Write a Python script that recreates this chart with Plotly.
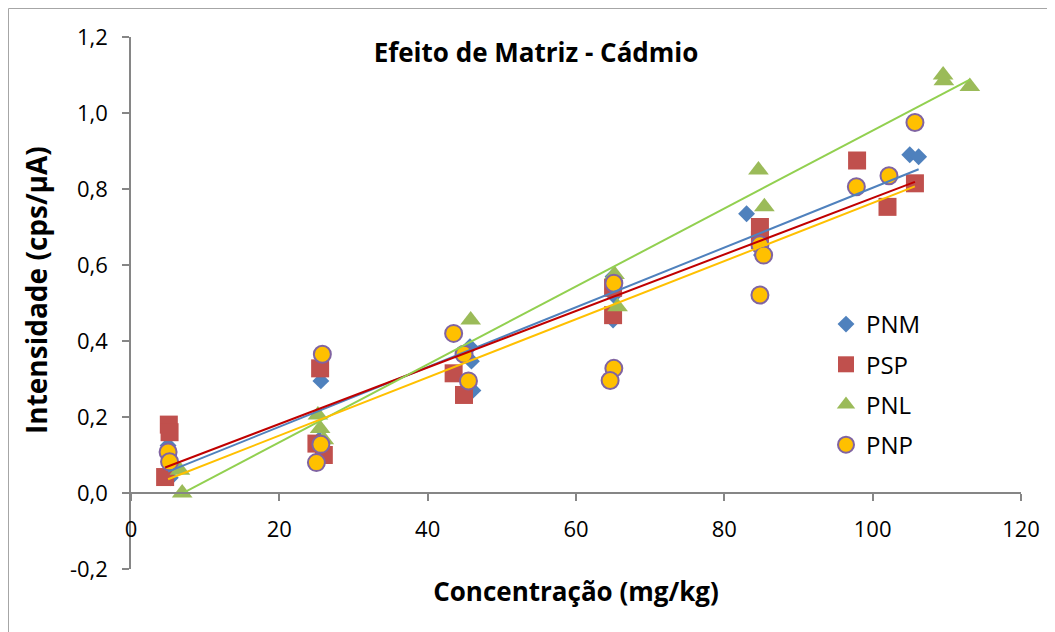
import numpy as np
import plotly.graph_objects as go

# ---- data ----
pnm_x = [5.0, 5.3, 5.1, 25.6, 25.4, 45.7, 45.9, 46.1, 65.0, 65.0, 65.1, 83.0, 85.0, 84.8, 105.0, 106.2]
pnm_y = [0.125, 0.04, 0.10, 0.295, 0.14, 0.385, 0.347, 0.27, 0.57, 0.455, 0.52, 0.735, 0.626, 0.675, 0.89, 0.885]

psp_x = [5.1, 5.2, 4.6, 25.5, 25.0, 26.0, 43.5, 44.9, 65.0, 65.0, 84.8, 84.8, 97.9, 102.0, 105.7]
psp_y = [0.18, 0.16, 0.042, 0.328, 0.13, 0.10, 0.315, 0.258, 0.54, 0.468, 0.70, 0.666, 0.875, 0.753, 0.815]

pnl_x = [6.6, 6.9, 25.2, 25.5, 26.0, 45.8, 65.2, 65.6, 84.6, 85.4, 109.5, 109.6, 113.1]
pnl_y = [0.06, 0.0, 0.205, 0.17, 0.14, 0.455, 0.575, 0.49, 0.85, 0.753, 1.10, 1.085, 1.07]

pnp_x = [5.0, 5.2, 25.8, 25.6, 25.0, 43.5, 44.9, 45.5, 65.1, 65.1, 64.6, 84.8, 85.3, 84.8, 105.7, 102.2, 97.8]
pnp_y = [0.108, 0.082, 0.365, 0.128, 0.08, 0.42, 0.365, 0.295, 0.552, 0.328, 0.296, 0.653, 0.626, 0.521, 0.975, 0.835, 0.806]

y_ticks = [-0.2, 0.0, 0.2, 0.4, 0.6, 0.8, 1.0, 1.2]
y_tick_labels = ["-0,2", "0,0", "0,2", "0,4", "0,6", "0,8", "1,0", "1,2"]

series = [
    ("PNM", pnm_x, pnm_y),
    ("PSP", psp_x, psp_y),
    ("PNL", pnl_x, pnl_y),
    ("PNP", pnp_x, pnp_y),
]

marker_styles = {
    "PNM": dict(symbol="diamond", size=13, color="#4F81BD"),
    "PSP": dict(symbol="square", size=18, color="#C0504D"),
    "PNL": dict(symbol="triangle-up", size=18, color="#9BBB59"),
    "PNP": dict(symbol="circle", size=17, color="#FFC000",
                line=dict(color="#8064A2", width=2)),
}
trend_colors = {"PNM": "#4F81BD", "PSP": "#C00000", "PNL": "#92D050", "PNP": "#FFC000"}

FONT = "'Open Sans', Lato, sans-serif"

fig = go.Figure()

# markers
for name, xs, ys in series:
    fig.add_trace(
        go.Scatter(
            x=xs, y=ys, mode="markers", name=name,
            marker=marker_styles[name],
            legendgroup=name,
        )
    )

# linear trendlines (least squares over each series' x range)
for name, xs, ys in series:
    slope, intercept = np.polyfit(xs, ys, 1)
    tx = np.array([min(xs), max(xs)])
    fig.add_trace(
        go.Scatter(
            x=tx, y=slope * tx + intercept, mode="lines",
            line=dict(color=trend_colors[name], width=2),
            showlegend=False, hoverinfo="skip",
        )
    )

# the page body adds an 8px offset; screen coords -> figure coords
OFF = 8
W, H = 1055 - OFF, 632 - OFF


# plot area on screen: x 131..1021, y 37..569
def px_x(p):
    return (p - 131) / 890


def px_y(p):
    return (569 - p) / 532


# chart-area frame (left and top edges visible)
fig.add_shape(
    type="path",
    xref="paper", yref="paper",
    path=f"M {px_x(8.5)},{px_y(700)} L {px_x(8.5)},{px_y(8.5)} L {px_x(1100)},{px_y(8.5)}",
    line=dict(color="#A6A6A6", width=1),
)

# y axis title
fig.add_annotation(
    text="<b>Intensidade (cps/µA)</b>",
    xref="paper", yref="paper",
    x=px_x(36), y=px_y(290), xanchor="center", yanchor="middle",
    textangle=-90, showarrow=False,
    font=dict(size=28),
)

fig.update_layout(
    width=W, height=H,
    margin=dict(l=131 - OFF, r=W - (1021 - OFF), t=37 - OFF, b=H - (569 - OFF)),
    paper_bgcolor="white", plot_bgcolor="white",
    font=dict(family=FONT, size=22, color="black"),
    title=dict(
        text="<b>Efeito de Matriz - Cádmio</b>",
        x=(536 - OFF) / W, xanchor="center",
        y=1 - (53 - OFF) / H, yanchor="middle",
        font=dict(size=26, color="black"),
    ),
    legend=dict(
        x=px_x(826), y=px_y(302), xanchor="left", yanchor="top",
        bgcolor="rgba(0,0,0,0)",
        font=dict(size=24),
        tracegroupgap=6,
        itemwidth=30,
    ),
    showlegend=True,
)

fig.update_xaxes(
    range=[0, 120], dtick=20, tick0=0,
    showgrid=False, zeroline=False, automargin=False,
    showline=True, linecolor="#868686", linewidth=1.5,
    ticks="outside", ticklen=7, tickcolor="#868686", tickwidth=1.5,
    ticklabelstandoff=10,
    anchor="free", position=0.2 / 1.4,
    title=dict(text="<b>Concentração (mg/kg)</b>", font=dict(size=26), standoff=40),
)
fig.update_yaxes(
    range=[-0.2, 1.2], tickvals=y_ticks, ticktext=y_tick_labels,
    showgrid=False, zeroline=False, automargin=False,
    showline=True, linecolor="#868686", linewidth=1.5,
    ticks="outside", ticklen=7, tickcolor="#868686", tickwidth=1.5,
    ticklabelstandoff=10,
)

fig.write_html("out.html")
